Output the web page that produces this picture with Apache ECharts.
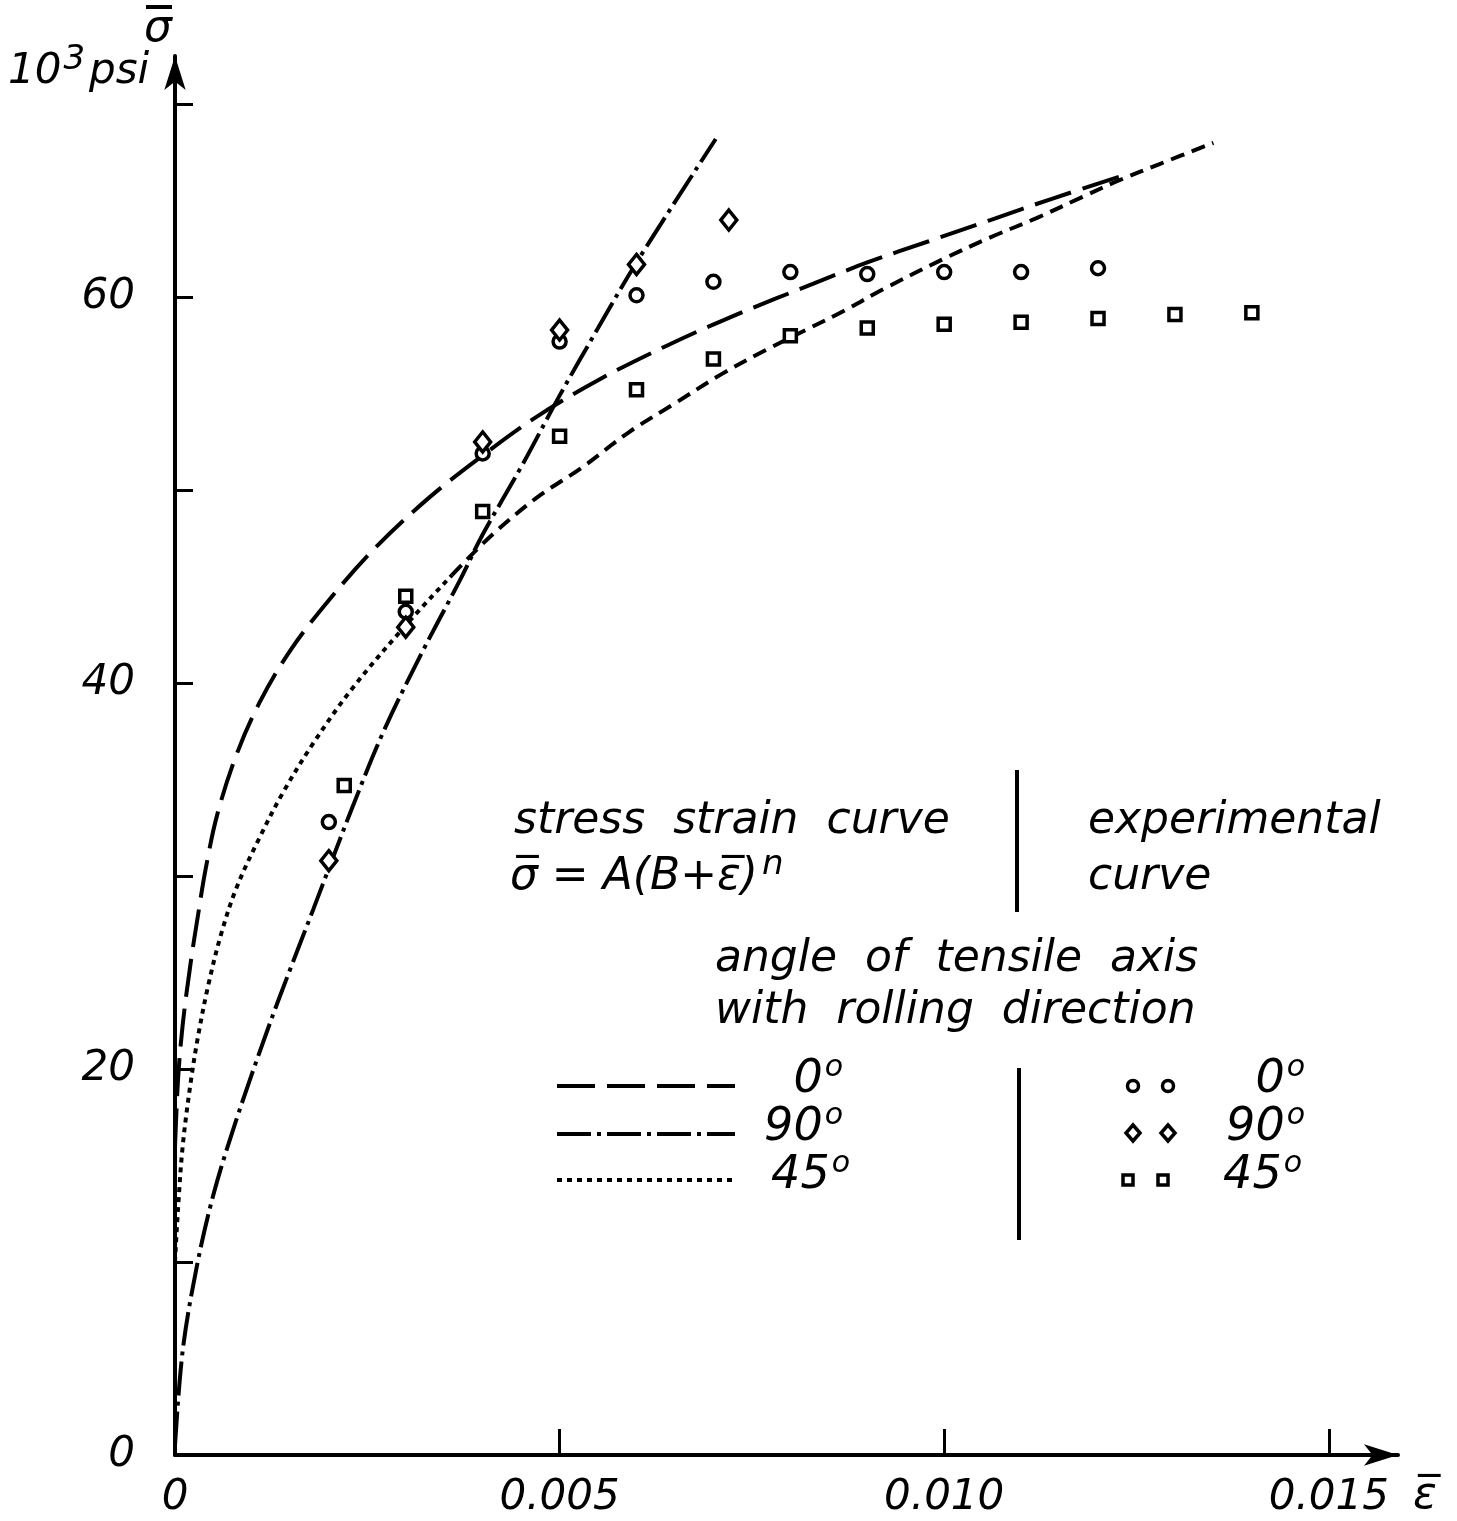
<!DOCTYPE html>
<html lang="en">
<head>
    <title>stress strain</title>
    <meta charset="utf-8"/>
    <script src="https://cdn.jsdelivr.net/npm/echarts@6/dist/echarts.min.js"></script>
    <style>
        html, body { margin: 0; padding: 0; background: #fff; }
        #chart { width: 1457px; height: 1521px; }
    </style>
</head>
<body>
<div id="chart"></div>
<script type="text/javascript">
    // fitted curves sigma = A(B+eps)^n: [strain, 10^3 psi]
    var curve0 = [[0, 16], [0.00004, 19.5], [0.0001, 22.3], [0.0002, 25.4], [0.0003, 28.0], [0.0004, 30.4],
        [0.00055, 33.2], [0.0008, 36.3], [0.0011, 39.0], [0.0015, 41.7], [0.002, 44.3], [0.0026, 47.0],
        [0.0033, 49.6], [0.004, 51.8], [0.0047, 53.8], [0.0055, 55.7], [0.0064, 57.5], [0.0073, 59.1],
        [0.0083, 60.7], [0.009, 61.8], [0.0098, 62.9], [0.0106, 64.0], [0.0114, 65.1], [0.0124, 66.4]];
    var curve90 = [[0, 0.5], [0.0001, 5.4], [0.00028, 9.7], [0.0005, 13.5], [0.0008, 17.4], [0.0012, 22.0],
        [0.0015, 25.2], [0.0018, 28.3], [0.002, 30.4], [0.0023, 33.5], [0.0027, 37.4], [0.0032, 41.5],
        [0.0037, 45.3], [0.004, 47.7], [0.0045, 51.2], [0.005, 54.9], [0.0055, 58.4], [0.006, 61.8], [0.00703, 68.2]];
    var curve45 = [[0, 10], [0.00004, 12.8], [0.0001, 16.0], [0.0002, 19.2], [0.0003, 21.7], [0.00043, 24.3],
        [0.0006, 27.0], [0.0008, 29.4], [0.0011, 32.0], [0.0014, 34.3], [0.0018, 36.9], [0.0023, 39.7],
        [0.003, 43.0], [0.0036, 45.6], [0.0041, 47.6], [0.0047, 49.6], [0.0053, 51.2], [0.0059, 53.0],
        [0.0065, 54.5], [0.0071, 56.0], [0.0077, 57.3], [0.0082, 58.3], [0.0087, 59.3], [0.0092, 60.4],
        [0.010, 62.0], [0.0106, 63.1], [0.0112, 64.1], [0.0118, 65.2], [0.0123, 66.1], [0.0128, 66.9], [0.0135, 68.0]];

    // experimental points
    var exp0 = [[0.002, 32.8], [0.003, 43.7], [0.004, 51.9], [0.005, 57.7], [0.006, 60.1], [0.007, 60.8],
        [0.008, 61.3], [0.009, 61.2], [0.010, 61.3], [0.011, 61.3], [0.012, 61.5]];
    var exp90 = [[0.002, 30.8], [0.003, 42.9], [0.004, 52.5], [0.005, 58.3], [0.006, 61.7], [0.0072, 64.0]];
    var exp45 = [[0.0022, 34.7], [0.003, 44.5], [0.004, 48.9], [0.005, 52.8], [0.006, 55.2], [0.007, 56.8],
        [0.008, 58.0], [0.009, 58.4], [0.010, 58.6], [0.011, 58.7], [0.012, 58.9], [0.013, 59.1], [0.014, 59.2]];

    var xTicks = [0.005, 0.010, 0.015];
    var xLabels = [0, 0.005, 0.010, 0.015];
    var yTicks = [10, 20, 30, 40, 50, 60, 70];
    var yLabels = [0, 20, 40, 60];

    var FONT = 'DejaVu Sans';
    var INK = '#000';

    // 45 deg curve is dotted low down, short dashes further up
    var split45 = 13;
    var curve45low = curve45.slice(0, split45 + 1);
    var curve45high = curve45.slice(split45);

    function fnt(size) {
        return 'italic ' + size + 'px "' + FONT + '"';
    }
    function txt(x, y, s, size, align) {
        return {
            type: 'text', x: x, y: y,
            style: {text: s, fill: INK, font: fnt(size || 44), textAlign: align || 'left', textVerticalAlign: 'middle'}
        };
    }
    // number with a raised small part, e.g. 90 + "o"
    function sup(x, y, base, top, align) {
        return {
            type: 'text', x: x, y: y,
            style: {
                text: '{a|' + base + '}{b|' + top + '}', fill: INK, textAlign: align || 'left', textVerticalAlign: 'middle',
                rich: {
                    a: {font: fnt(46), fill: INK},
                    b: {font: fnt(30), fill: INK, verticalAlign: 'top', padding: [0, 0, 24, 2]}
                }
            }
        };
    }
    function seg(x1, y1, x2, y2, dash, w) {
        return {
            type: 'line', shape: {x1: x1, y1: y1, x2: x2, y2: y2},
            style: {stroke: INK, lineWidth: w || 4, lineDash: dash || null}
        };
    }
    var mk = {fill: '#fff', stroke: INK, lineWidth: 3.5};
    function ring(cx, cy) {
        return {type: 'circle', shape: {cx: cx, cy: cy, r: 5.5}, style: mk};
    }
    function diam(cx, cy) {
        return {type: 'polygon', shape: {points: [[cx, cy - 8], [cx + 7, cy], [cx, cy + 8], [cx - 7, cy]]}, style: mk};
    }
    function box(cx, cy) {
        return {type: 'rect', shape: {x: cx - 5, y: cy - 5, width: 10, height: 10}, style: mk};
    }

    var lineBase = {type: 'line', smooth: 0.35, showSymbol: false, symbol: 'none', z: 2, silent: true};
    var ptBase = {type: 'scatter', z: 5, silent: true, itemStyle: {color: '#fff', borderColor: INK, borderWidth: 3.5, opacity: 1}};

    var dom = document.getElementById('chart');
    var myChart = echarts.init(dom, null, {renderer: 'canvas'});

    var option = {
        backgroundColor: '#fff',
        animation: false,
        grid: {left: 175, right: 59, top: 56, bottom: 66},
        xAxis: {
            type: 'value', min: 0, max: 0.0159,
            axisLine: {lineStyle: {color: INK, width: 4}, symbol: ['none', 'arrow'], symbolSize: [16, 34]},
            axisTick: {inside: true, length: 26, lineStyle: {color: INK, width: 3}, customValues: xTicks},
            axisLabel: {
                customValues: xLabels, margin: 22, color: INK, fontSize: 42, fontStyle: 'italic', fontFamily: FONT,
                formatter: function (v) { return v === 0 ? '0' : v.toFixed(3); }
            },
            splitLine: {show: false}
        },
        yAxis: {
            type: 'value', min: 0, max: 72.5,
            axisLine: {lineStyle: {color: INK, width: 4}, symbol: ['none', 'arrow'], symbolSize: [16, 34]},
            axisTick: {inside: true, length: 18, lineStyle: {color: INK, width: 3}, customValues: yTicks},
            axisLabel: {customValues: yLabels, margin: 40, color: INK, fontSize: 42, fontStyle: 'italic', fontFamily: FONT},
            splitLine: {show: false}
        },
        series: [
            Object.assign({}, lineBase, {name: '0°', data: curve0, lineStyle: {color: INK, width: 4, type: [38, 12]}}),
            Object.assign({}, lineBase, {name: '90°', data: curve90, lineStyle: {color: INK, width: 4, type: [34, 6, 4, 6]}}),
            Object.assign({}, lineBase, {name: '45°', data: curve45low, lineStyle: {color: INK, width: 4, type: [5, 5]}}),
            Object.assign({}, lineBase, {name: '45° ', data: curve45high, lineStyle: {color: INK, width: 4, type: [14, 8]}}),
            Object.assign({}, ptBase, {name: 'exp 0°', data: exp0, symbol: 'circle', symbolSize: 13}),
            Object.assign({}, ptBase, {name: 'exp 90°', data: exp90, symbol: 'diamond', symbolSize: [16, 20]}),
            Object.assign({}, ptBase, {name: 'exp 45°', data: exp45, symbol: 'rect', symbolSize: 12})
        ],
        graphic: [
            // axis names
            txt(158, 30, 'σ', 44, 'center'),
            seg(146, 7, 172, 7, null, 4),
            {
                type: 'text', x: 8, y: 72,
                style: {
                    text: '{a|10}{b|3}{a|psi}', fill: INK, textVerticalAlign: 'middle',
                    rich: {
                        a: {font: fnt(42), fill: INK},
                        b: {font: fnt(34), fill: INK, verticalAlign: 'top', padding: [0, 4, 24, 2]}
                    }
                }
            },
            txt(1425, 1497, 'ε\u0305', 44, 'center'),

            // key: formula / experiment heads
            txt(514, 822, 'stress  strain  curve'),
            {
                type: 'text', x: 510, y: 878,
                style: {
                    text: '{a|σ\u0305 = A(B+ε\u0305)}{b|n}', fill: INK, textVerticalAlign: 'middle',
                    rich: {
                        a: {font: fnt(44), fill: INK},
                        b: {font: fnt(34), fill: INK, verticalAlign: 'top', padding: [0, 0, 26, 4]}
                    }
                }
            },
            seg(1017, 770, 1017, 912),
            txt(1088, 822, 'experimental'),
            txt(1088, 878, 'curve'),
            txt(715, 960, 'angle  of  tensile  axis'),
            txt(715, 1012, 'with  rolling  direction'),

            // key: line styles
            seg(557, 1086, 735, 1086, [38, 12]),
            seg(557, 1134, 735, 1134, [34, 6, 4, 6]),
            seg(557, 1180, 735, 1180, [5, 5]),
            sup(843, 1080, '0', 'o', 'right'),
            sup(843, 1128, '90', 'o', 'right'),
            sup(850, 1176, '45', 'o', 'right'),
            seg(1019, 1068, 1019, 1240),

            // key: symbols
            ring(1133, 1086), ring(1168, 1086),
            diam(1133, 1133), diam(1168, 1133),
            box(1128, 1180), box(1163, 1180),
            sup(1305, 1080, '0', 'o', 'right'),
            sup(1305, 1128, '90', 'o', 'right'),
            sup(1302, 1176, '45', 'o', 'right')
        ]
    };

    if (option && typeof option === "object") {
        myChart.setOption(option, true);
    }
</script>
</body>
</html>
